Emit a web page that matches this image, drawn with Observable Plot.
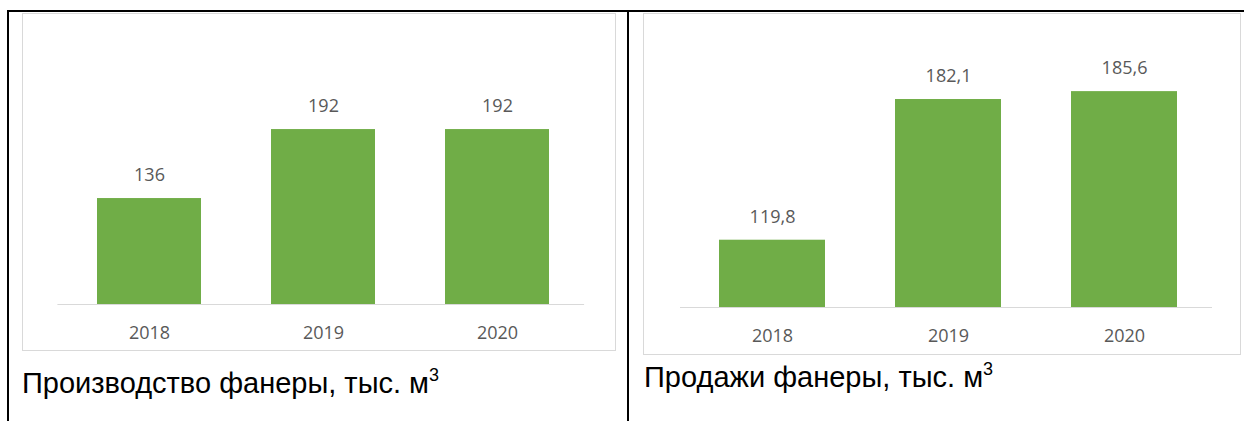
<!DOCTYPE html>
<html>
<head>
<meta charset="utf-8">
<script src="https://cdn.jsdelivr.net/npm/d3@7"></script>
<script src="https://cdn.jsdelivr.net/npm/@observablehq/plot@0.6"></script>
<style>
  html, body { margin: 0; padding: 0; background: #fff; }
  #page { position: relative; width: 1244px; height: 421px; overflow: hidden; background: #fff; }
  .line { position: absolute; background: #000; }
  .frame { position: absolute; box-sizing: border-box; border: 1px solid #d9d9d9; pointer-events: none; }
  .plot { position: absolute; }
  .caption { position: absolute; font-family: "Liberation Sans", Arial, sans-serif; font-size: 29px; line-height: 1; color: #000; white-space: nowrap; }
  .caption .sup { font-size: 18px; position: relative; top: -12px; }
</style>
</head>
<body>
<div id="page">
  <div class="line" style="left:7px; top:10px; width:1237px; height:2px;"></div>
  <div class="line" style="left:7px; top:10px; width:2px; height:411px;"></div>
  <div class="line" style="left:627px; top:10px; width:2px; height:411px;"></div>

  <div id="left" class="plot" style="left:22px; top:13px;"></div>
  <div class="frame" style="left:22px; top:13px; width:594px; height:338px;"></div>
  <div id="right" class="plot" style="left:643px; top:13px;"></div>
  <div class="frame" style="left:643px; top:13px; width:598px; height:342px;"></div>

  <div id="cap-left" class="caption" style="left:22px; top:369px;"></div>
  <div id="cap-right" class="caption" style="left:644px; top:363px;"></div>
</div>
<script>
// ---- data ----
const years = ["2018", "2019", "2020"];
const production = [136, 192, 192];
const sales = [119.8, 182.1, 185.6];
const productionTitle = "Производство фанеры, тыс. м";
const salesTitle = "Продажи фанеры, тыс. м";
const unitSup = "3";

const fmt = v => String(v).replace(".", ",");

function chart(values, opts) {
  const data = years.map((year, i) => ({year, value: values[i]}));
  const y0 = opts.domain[0];
  return Plot.plot({
    width: opts.width,
    height: opts.height,
    marginTop: opts.marginTop,
    marginBottom: opts.marginBottom,
    marginLeft: opts.marginLeft,
    marginRight: opts.marginRight,
    style: {fontFamily: "'Open Sans', sans-serif", fontSize: "18px", color: "#595959", background: "transparent"},
    x: {domain: years, paddingInner: 0.4, paddingOuter: 0.2, label: null},
    y: {domain: opts.domain, axis: null},
    marks: [
      Plot.ruleY([y0], {stroke: "#d9d9d9", strokeWidth: 1.2, insetLeft: -4}),
      Plot.barY(data, {x: "year", y1: y0, y2: "value", fill: "#70ad47"}),
      Plot.text(data, {x: "year", y: "value", text: d => fmt(d.value), dy: -23, fill: "#595959", fontSize: 18}),
      Plot.axisX({tickSize: 0, tickPadding: 22, fontSize: 18, fill: "#595959", label: null})
    ]
  });
}

document.getElementById("left").append(chart(production, {
  width: 593, height: 337, marginTop: 44.6, marginBottom: 46, marginLeft: 39.4, marginRight: 30.9,
  domain: [50, 250]
}));
document.getElementById("right").append(chart(sales, {
  width: 597, height: 341, marginTop: 45.6, marginBottom: 47, marginLeft: 41, marginRight: 28,
  domain: [90, 200]
}));

function caption(id, text) {
  const el = document.getElementById(id);
  el.append(text);
  const s = document.createElement("span");
  s.className = "sup";
  s.textContent = unitSup;
  el.append(s);
}
caption("cap-left", productionTitle);
caption("cap-right", salesTitle);
</script>
</body>
</html>
